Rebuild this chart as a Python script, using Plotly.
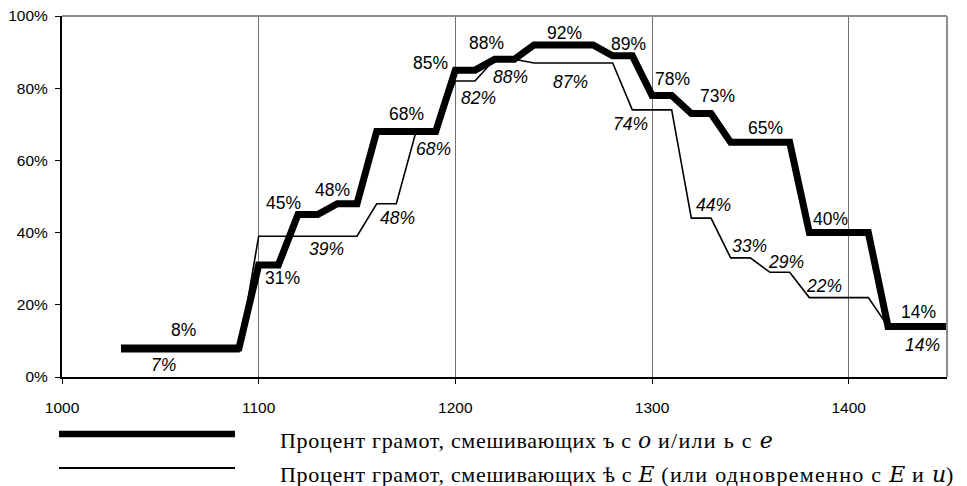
import plotly.graph_objects as go

# years sampled every decade
years = [1030, 1040, 1050, 1060, 1070, 1080, 1090,
         1100, 1110, 1120, 1130, 1140, 1150, 1160, 1170, 1180, 1190,
         1200, 1210, 1220, 1230, 1240, 1250, 1260, 1270, 1280, 1290,
         1300, 1310, 1320, 1330, 1340, 1350, 1360, 1370, 1380, 1390,
         1400, 1410, 1420, 1430, 1440, 1450]

# percent of charters mixing ъ with о and/or ь with е
thick_values = [8, 8, 8, 8, 8, 8, 8,
                31, 31, 45, 45, 48, 48, 68, 68, 68, 68,
                85, 85, 88, 88, 92, 92, 92, 92, 89, 89,
                78, 78, 73, 73, 65, 65, 65, 65, 40, 40,
                40, 40, 14, 14, 14, 14]

# percent of charters mixing ѣ with е (or with е and и)
thin_values = [7, 7, 7, 7, 7, 7, 7,
               39, 39, 39, 39, 39, 39, 48, 48, 68, 68,
               82, 82, 88, 88, 87, 87, 87, 87, 87, 74,
               74, 74, 44, 44, 33, 33, 29, 29, 22, 22,
               22, 22, 14, 14, 14, 14]

# which points carry a value label
thick_label_years = [1060, 1110, 1120, 1140, 1170, 1200, 1220, 1250, 1290,
                     1310, 1330, 1360, 1390, 1440]
thin_label_years = [1050, 1130, 1170, 1190, 1210, 1230, 1260, 1290, 1330,
                    1350, 1370, 1390, 1440]


def it(ch):
    return ("<span style='font-family:DejaVu Serif;font-style:italic;font-size:22px;"
            "letter-spacing:0px'>" + ch + "</span>")


def wide(s, sp=0.7):
    return f"<span style='letter-spacing:{sp}px'>" + s + "</span>"


legend_thick = (wide("Процент грамот, смешивающих ъ с ") + it("о")
                + wide(" и/или ь с ", 1.3) + it("е"))
legend_thin = (wide("Процент грамот, смешивающих ѣ с ") + it("Е")
               + wide(" (или одновременно с ", 1.3) + it("Е") + wide(" и ", 1.3)
               + it("и") + wide(")"))

# label pixel offsets (dx, dy)
thick_offsets = [(3, 18), (4.5, -12.5), (-15, 12), (-4.5, 14), (10, 18), (-25, 7),
                 (-8, 16), (11, 12), (-4, 12), (1, 16), (6, 17.5), (-5, 14),
                 (1, 14), (-9, 14.5)]
thin_offsets = [(3, -13.6), (9, -12.4), (1, -14.6), (-2, -17), (3, -17), (-4, -17.7),
                (-3, -19), (-2, -14.4), (2, 13), (-1, 11.6), (-4, 10), (-5, 12),
                (-5, -19)]

sans = "Liberation Sans, Arial, sans-serif"
serif = "Liberation Serif, Times New Roman, serif"

fig = go.Figure()
fig.add_trace(go.Scatter(x=years, y=thin_values, mode="lines",
                         line=dict(color="black", width=1.6), hoverinfo="skip"))
fig.add_trace(go.Scatter(x=years, y=thick_values, mode="lines",
                         line=dict(color="black", width=7), hoverinfo="skip"))

annotations = []
for yr, (dx, dy) in zip(thick_label_years, thick_offsets):
    v = thick_values[years.index(yr)]
    annotations.append(dict(x=yr, y=v, text=f"{v}%", showarrow=False,
                            xshift=dx, yshift=dy,
                            font=dict(family=sans, size=17.5, color="black")))
for yr, (dx, dy) in zip(thin_label_years, thin_offsets):
    v = thin_values[years.index(yr)]
    annotations.append(dict(x=yr, y=v, text=f"{v}%", showarrow=False,
                            xshift=dx, yshift=dy,
                            font=dict(family=sans, size=17.5, color="black",
                                      style="italic")))

annotations.append(dict(xref="paper", yref="paper", x=0, y=0, xanchor="left",
                        yanchor="middle", xshift=216, yshift=-63,
                        text=legend_thick, showarrow=False, align="left",
                        font=dict(family=serif, size=22, color="black")))
annotations.append(dict(xref="paper", yref="paper", x=0, y=0, xanchor="left",
                        yanchor="middle", xshift=216, yshift=-97,
                        text=legend_thin, showarrow=False, align="left",
                        font=dict(family=serif, size=22, color="black")))

shapes = [
    # top and right frame
    dict(type="line", xref="paper", yref="paper", x0=0, x1=1, y0=1, y1=1,
         line=dict(color="#8c8c8c", width=2)),
    dict(type="line", xref="paper", yref="paper", x0=1, x1=1, y0=0, y1=1,
         line=dict(color="#8c8c8c", width=2)),
    # legend samples
    dict(type="line", xref="paper", yref="paper", xsizemode="pixel", ysizemode="pixel",
         xanchor=0, yanchor=0, x0=-3, x1=173, y0=-57, y1=-57,
         line=dict(color="black", width=6.5)),
    dict(type="line", xref="paper", yref="paper", xsizemode="pixel", ysizemode="pixel",
         xanchor=0, yanchor=0, x0=-3, x1=173, y0=-91, y1=-91,
         line=dict(color="black", width=2)),
]

# page body has an 8px margin, so the figure is 8px smaller than the window
fig.update_layout(
    width=959, height=478,
    margin=dict(l=54, r=20, t=8, b=109),
    plot_bgcolor="white", paper_bgcolor="white",
    showlegend=False,
    annotations=annotations,
    shapes=shapes,
    xaxis=dict(range=[1000, 1450], tick0=1000, dtick=100, automargin=False,
               showgrid=True, gridcolor="#707070", gridwidth=1,
               showline=True, linecolor="black", linewidth=2,
               ticks="outside", ticklen=5, tickcolor="black",
               zeroline=False, ticklabelstandoff=10, ticklabeloverflow="allow",
               tickfont=dict(family=sans, size=15.5, color="black")),
    yaxis=dict(range=[0, 100], tick0=0, dtick=20, ticksuffix="%", automargin=False,
               showgrid=False, showline=True, linecolor="black", linewidth=2,
               ticks="outside", ticklen=5, tickcolor="black",
               zeroline=False, ticklabelstandoff=4, ticklabeloverflow="allow",
               tickfont=dict(family=sans, size=15.5, color="black")),
)

fig.write_html("out.html")
